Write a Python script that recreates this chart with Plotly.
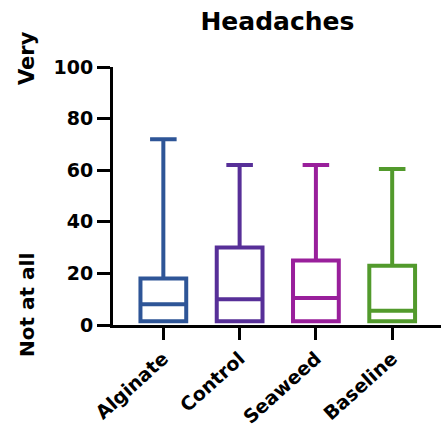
import plotly.graph_objects as go

groups = ["Alginate", "Control", "Seaweed", "Baseline"]
q1 = [1.5, 1.5, 1.5, 1.5]
median = [8, 10, 10.5, 5.5]
q3 = [18, 30, 25, 23]
lower = [1.5, 1.5, 1.5, 1.5]
upper = [72, 62, 62, 60.5]
colors = ["#2E5597", "#572F98", "#991F9B", "#529A2C"]
yticks = [0, 20, 40, 60, 80, 100]

fig = go.Figure()
for i, g in enumerate(groups):
    fig.add_trace(go.Box(
        x=[g], q1=[q1[i]], median=[median[i]], q3=[q3[i]],
        lowerfence=[lower[i]], upperfence=[upper[i]],
        name=g, width=0.6, whiskerwidth=0.58,
        line=dict(color=colors[i], width=4),
        fillcolor="rgba(255,255,255,0)",
        boxpoints=False, showlegend=False,
    ))

font = "DejaVu Sans, Arial, sans-serif"
fig.update_layout(
    width=441, height=428,
    margin=dict(l=113, r=0, t=67, b=103),
    plot_bgcolor="white", paper_bgcolor="white",
    boxmode="overlay",
    title=dict(text="<b>Headaches</b>", x=0.629, xanchor="center", y=0.951, yanchor="middle",
               font=dict(family=font, size=25, color="black")),
    font=dict(family=font, color="black"),
)
fig.update_xaxes(
    type="category", categoryorder="array", categoryarray=groups,
    range=[-0.66, 3.64], showline=True, linecolor="black", linewidth=3,
    ticks="outside", ticklen=12, tickwidth=3, tickcolor="black",
    tickangle=-42, tickfont=dict(family=font, size=19, color="black", weight="bold"),
    showgrid=False, zeroline=False,
)
fig.update_yaxes(
    range=[0, 100], tickvals=yticks, ticktext=[str(v) for v in yticks],
    showline=True, linecolor="black", linewidth=3,
    ticks="outside", ticklen=13, tickwidth=3, tickcolor="black",
    tickfont=dict(family=font, size=19, color="black", weight="bold"),
    showgrid=False, zeroline=False,
)
fig.add_annotation(text="<b>Very</b>", xref="paper", yref="paper", x=-0.262, y=1.035,
                   textangle=-90, showarrow=False, font=dict(family=font, size=21, color="black"),
                   xanchor="center", yanchor="middle")
fig.add_annotation(text="<b>Not at all</b>", xref="paper", yref="paper", x=-0.262, y=0.078,
                   textangle=-90, showarrow=False, font=dict(family=font, size=20, color="black"),
                   xanchor="center", yanchor="middle")
fig.write_html("out.html")
